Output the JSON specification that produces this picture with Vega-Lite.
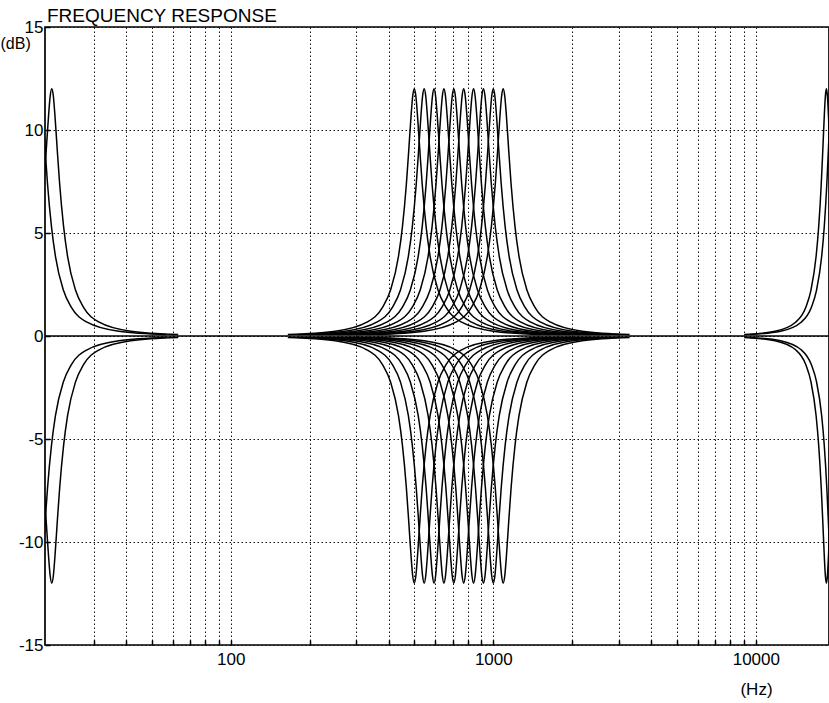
{
  "$schema": "https://vega.github.io/schema/vega-lite/v6.json",
  "autosize": "none",
  "width": 784,
  "height": 618,
  "padding": {"left": 45, "top": 27, "right": 0, "bottom": 58},
  "background": "white",
  "title": {"text": "FREQUENCY RESPONSE", "anchor": "start", "frame": "group", "fontSize": 19, "fontWeight": "normal", "font": "Liberation Sans", "color": "black", "baseline": "alphabetic", "offset": 0, "dy": 23, "dx": 2},
  "config": {
    "view": {"stroke": "black", "strokeWidth": 1.7},
    "axis": {"domain": false, "ticks": true, "tickSize": -5, "tickColor": "black", "tickWidth": 1.5, "grid": true, "gridColor": "#111", "gridDash": [1.5, 2.5], "gridWidth": 1, "gridOpacity": 1, "labelFont": "Liberation Sans", "labelFontSize": 17, "labelColor": "black", "titleFont": "Liberation Sans", "titleFontSize": 16, "titleFontWeight": "normal", "titleColor": "black"}
  },
  "datasets": {
    "curves": [
{"c":"0u","f":164.9,"db":0.07},{"c":"0u","f":250,"db":0.23},{"c":"0u","f":329.9,"db":0.67},{"c":"0u","f":378.9,"db":1.4},{"c":"0u","f":406.1,"db":2.23},{"c":"0u","f":435.3,"db":3.87},{"c":"0u","f":450.6,"db":5.3},{"c":"0u","f":466.5,"db":7.38},{"c":"0u","f":476.3,"db":9.01},{"c":"0u","f":486.3,"db":10.73},{"c":"0u","f":493.1,"db":11.64},{"c":"0u","f":500,"db":12},{"c":"0u","f":507,"db":11.64},{"c":"0u","f":514.1,"db":10.73},{"c":"0u","f":524.9,"db":9.01},{"c":"0u","f":535.9,"db":7.38},{"c":"0u","f":554.8,"db":5.3},{"c":"0u","f":574.4,"db":3.87},{"c":"0u","f":615.6,"db":2.23},{"c":"0u","f":659.8,"db":1.4},{"c":"0u","f":757.9,"db":0.67},{"c":"0u","f":1000,"db":0.23},{"c":"0u","f":1515.7,"db":0.07},
{"c":"0d","f":164.9,"db":-0.07},{"c":"0d","f":250,"db":-0.23},{"c":"0d","f":329.9,"db":-0.67},{"c":"0d","f":378.9,"db":-1.4},{"c":"0d","f":406.1,"db":-2.23},{"c":"0d","f":435.3,"db":-3.87},{"c":"0d","f":450.6,"db":-5.3},{"c":"0d","f":466.5,"db":-7.38},{"c":"0d","f":476.3,"db":-9.01},{"c":"0d","f":486.3,"db":-10.73},{"c":"0d","f":493.1,"db":-11.64},{"c":"0d","f":500,"db":-12},{"c":"0d","f":507,"db":-11.64},{"c":"0d","f":514.1,"db":-10.73},{"c":"0d","f":524.9,"db":-9.01},{"c":"0d","f":535.9,"db":-7.38},{"c":"0d","f":554.8,"db":-5.3},{"c":"0d","f":574.4,"db":-3.87},{"c":"0d","f":615.6,"db":-2.23},{"c":"0d","f":659.8,"db":-1.4},{"c":"0d","f":757.9,"db":-0.67},{"c":"0d","f":1000,"db":-0.23},{"c":"0d","f":1515.7,"db":-0.07},
{"c":"1u","f":179.9,"db":0.07},{"c":"1u","f":272.6,"db":0.23},{"c":"1u","f":359.7,"db":0.67},{"c":"1u","f":413.2,"db":1.4},{"c":"1u","f":442.9,"db":2.23},{"c":"1u","f":474.7,"db":3.87},{"c":"1u","f":491.4,"db":5.3},{"c":"1u","f":508.7,"db":7.38},{"c":"1u","f":519.4,"db":9.01},{"c":"1u","f":530.3,"db":10.73},{"c":"1u","f":537.7,"db":11.64},{"c":"1u","f":545.3,"db":12},{"c":"1u","f":552.9,"db":11.64},{"c":"1u","f":560.6,"db":10.73},{"c":"1u","f":572.4,"db":9.01},{"c":"1u","f":584.4,"db":7.38},{"c":"1u","f":605,"db":5.3},{"c":"1u","f":626.3,"db":3.87},{"c":"1u","f":671.3,"db":2.23},{"c":"1u","f":719.5,"db":1.4},{"c":"1u","f":826.5,"db":0.67},{"c":"1u","f":1090.5,"db":0.23},{"c":"1u","f":1652.9,"db":0.07},
{"c":"1d","f":179.9,"db":-0.07},{"c":"1d","f":272.6,"db":-0.23},{"c":"1d","f":359.7,"db":-0.67},{"c":"1d","f":413.2,"db":-1.4},{"c":"1d","f":442.9,"db":-2.23},{"c":"1d","f":474.7,"db":-3.87},{"c":"1d","f":491.4,"db":-5.3},{"c":"1d","f":508.7,"db":-7.38},{"c":"1d","f":519.4,"db":-9.01},{"c":"1d","f":530.3,"db":-10.73},{"c":"1d","f":537.7,"db":-11.64},{"c":"1d","f":545.3,"db":-12},{"c":"1d","f":552.9,"db":-11.64},{"c":"1d","f":560.6,"db":-10.73},{"c":"1d","f":572.4,"db":-9.01},{"c":"1d","f":584.4,"db":-7.38},{"c":"1d","f":605,"db":-5.3},{"c":"1d","f":626.3,"db":-3.87},{"c":"1d","f":671.3,"db":-2.23},{"c":"1d","f":719.5,"db":-1.4},{"c":"1d","f":826.5,"db":-0.67},{"c":"1d","f":1090.5,"db":-0.23},{"c":"1d","f":1652.9,"db":-0.07},
{"c":"2u","f":196.2,"db":0.07},{"c":"2u","f":297.3,"db":0.23},{"c":"2u","f":392.3,"db":0.67},{"c":"2u","f":450.6,"db":1.4},{"c":"2u","f":483,"db":2.23},{"c":"2u","f":517.6,"db":3.87},{"c":"2u","f":535.9,"db":5.3},{"c":"2u","f":554.8,"db":7.38},{"c":"2u","f":566.4,"db":9.01},{"c":"2u","f":578.3,"db":10.73},{"c":"2u","f":586.4,"db":11.64},{"c":"2u","f":594.6,"db":12},{"c":"2u","f":602.9,"db":11.64},{"c":"2u","f":611.3,"db":10.73},{"c":"2u","f":624.2,"db":9.01},{"c":"2u","f":637.3,"db":7.38},{"c":"2u","f":659.8,"db":5.3},{"c":"2u","f":683,"db":3.87},{"c":"2u","f":732,"db":2.23},{"c":"2u","f":784.6,"db":1.4},{"c":"2u","f":901.3,"db":0.67},{"c":"2u","f":1189.2,"db":0.23},{"c":"2u","f":1802.5,"db":0.07},
{"c":"2d","f":196.2,"db":-0.07},{"c":"2d","f":297.3,"db":-0.23},{"c":"2d","f":392.3,"db":-0.67},{"c":"2d","f":450.6,"db":-1.4},{"c":"2d","f":483,"db":-2.23},{"c":"2d","f":517.6,"db":-3.87},{"c":"2d","f":535.9,"db":-5.3},{"c":"2d","f":554.8,"db":-7.38},{"c":"2d","f":566.4,"db":-9.01},{"c":"2d","f":578.3,"db":-10.73},{"c":"2d","f":586.4,"db":-11.64},{"c":"2d","f":594.6,"db":-12},{"c":"2d","f":602.9,"db":-11.64},{"c":"2d","f":611.3,"db":-10.73},{"c":"2d","f":624.2,"db":-9.01},{"c":"2d","f":637.3,"db":-7.38},{"c":"2d","f":659.8,"db":-5.3},{"c":"2d","f":683,"db":-3.87},{"c":"2d","f":732,"db":-2.23},{"c":"2d","f":784.6,"db":-1.4},{"c":"2d","f":901.3,"db":-0.67},{"c":"2d","f":1189.2,"db":-0.23},{"c":"2d","f":1802.5,"db":-0.07},
{"c":"3u","f":213.9,"db":0.07},{"c":"3u","f":324.2,"db":0.23},{"c":"3u","f":427.8,"db":0.67},{"c":"3u","f":491.4,"db":1.4},{"c":"3u","f":526.7,"db":2.23},{"c":"3u","f":564.5,"db":3.87},{"c":"3u","f":584.4,"db":5.3},{"c":"3u","f":605,"db":7.38},{"c":"3u","f":617.7,"db":9.01},{"c":"3u","f":630.7,"db":10.73},{"c":"3u","f":639.5,"db":11.64},{"c":"3u","f":648.4,"db":12},{"c":"3u","f":657.5,"db":11.64},{"c":"3u","f":666.7,"db":10.73},{"c":"3u","f":680.7,"db":9.01},{"c":"3u","f":695,"db":7.38},{"c":"3u","f":719.5,"db":5.3},{"c":"3u","f":744.8,"db":3.87},{"c":"3u","f":798.3,"db":2.23},{"c":"3u","f":855.6,"db":1.4},{"c":"3u","f":982.8,"db":0.67},{"c":"3u","f":1296.8,"db":0.23},{"c":"3u","f":1965.6,"db":0.07},
{"c":"3d","f":213.9,"db":-0.07},{"c":"3d","f":324.2,"db":-0.23},{"c":"3d","f":427.8,"db":-0.67},{"c":"3d","f":491.4,"db":-1.4},{"c":"3d","f":526.7,"db":-2.23},{"c":"3d","f":564.5,"db":-3.87},{"c":"3d","f":584.4,"db":-5.3},{"c":"3d","f":605,"db":-7.38},{"c":"3d","f":617.7,"db":-9.01},{"c":"3d","f":630.7,"db":-10.73},{"c":"3d","f":639.5,"db":-11.64},{"c":"3d","f":648.4,"db":-12},{"c":"3d","f":657.5,"db":-11.64},{"c":"3d","f":666.7,"db":-10.73},{"c":"3d","f":680.7,"db":-9.01},{"c":"3d","f":695,"db":-7.38},{"c":"3d","f":719.5,"db":-5.3},{"c":"3d","f":744.8,"db":-3.87},{"c":"3d","f":798.3,"db":-2.23},{"c":"3d","f":855.6,"db":-1.4},{"c":"3d","f":982.8,"db":-0.67},{"c":"3d","f":1296.8,"db":-0.23},{"c":"3d","f":1965.6,"db":-0.07},
{"c":"4u","f":233.3,"db":0.07},{"c":"4u","f":353.6,"db":0.23},{"c":"4u","f":466.5,"db":0.67},{"c":"4u","f":535.9,"db":1.4},{"c":"4u","f":574.4,"db":2.23},{"c":"4u","f":615.6,"db":3.87},{"c":"4u","f":637.3,"db":5.3},{"c":"4u","f":659.8,"db":7.38},{"c":"4u","f":673.6,"db":9.01},{"c":"4u","f":687.8,"db":10.73},{"c":"4u","f":697.4,"db":11.64},{"c":"4u","f":707.1,"db":12},{"c":"4u","f":717,"db":11.64},{"c":"4u","f":727,"db":10.73},{"c":"4u","f":742.3,"db":9.01},{"c":"4u","f":757.9,"db":7.38},{"c":"4u","f":784.6,"db":5.3},{"c":"4u","f":812.3,"db":3.87},{"c":"4u","f":870.6,"db":2.23},{"c":"4u","f":933,"db":1.4},{"c":"4u","f":1071.8,"db":0.67},{"c":"4u","f":1414.2,"db":0.23},{"c":"4u","f":2143.6,"db":0.07},
{"c":"4d","f":233.3,"db":-0.07},{"c":"4d","f":353.6,"db":-0.23},{"c":"4d","f":466.5,"db":-0.67},{"c":"4d","f":535.9,"db":-1.4},{"c":"4d","f":574.4,"db":-2.23},{"c":"4d","f":615.6,"db":-3.87},{"c":"4d","f":637.3,"db":-5.3},{"c":"4d","f":659.8,"db":-7.38},{"c":"4d","f":673.6,"db":-9.01},{"c":"4d","f":687.8,"db":-10.73},{"c":"4d","f":697.4,"db":-11.64},{"c":"4d","f":707.1,"db":-12},{"c":"4d","f":717,"db":-11.64},{"c":"4d","f":727,"db":-10.73},{"c":"4d","f":742.3,"db":-9.01},{"c":"4d","f":757.9,"db":-7.38},{"c":"4d","f":784.6,"db":-5.3},{"c":"4d","f":812.3,"db":-3.87},{"c":"4d","f":870.6,"db":-2.23},{"c":"4d","f":933,"db":-1.4},{"c":"4d","f":1071.8,"db":-0.67},{"c":"4d","f":1414.2,"db":-0.23},{"c":"4d","f":2143.6,"db":-0.07},
{"c":"5u","f":254.4,"db":0.07},{"c":"5u","f":385.6,"db":0.23},{"c":"5u","f":508.7,"db":0.67},{"c":"5u","f":584.4,"db":1.4},{"c":"5u","f":626.3,"db":2.23},{"c":"5u","f":671.3,"db":3.87},{"c":"5u","f":695,"db":5.3},{"c":"5u","f":719.5,"db":7.38},{"c":"5u","f":734.6,"db":9.01},{"c":"5u","f":750,"db":10.73},{"c":"5u","f":760.5,"db":11.64},{"c":"5u","f":771.1,"db":12},{"c":"5u","f":781.9,"db":11.64},{"c":"5u","f":792.8,"db":10.73},{"c":"5u","f":809.4,"db":9.01},{"c":"5u","f":826.5,"db":7.38},{"c":"5u","f":855.6,"db":5.3},{"c":"5u","f":885.8,"db":3.87},{"c":"5u","f":949.3,"db":2.23},{"c":"5u","f":1017.5,"db":1.4},{"c":"5u","f":1168.8,"db":0.67},{"c":"5u","f":1542.2,"db":0.23},{"c":"5u","f":2337.6,"db":0.07},
{"c":"5d","f":254.4,"db":-0.07},{"c":"5d","f":385.6,"db":-0.23},{"c":"5d","f":508.7,"db":-0.67},{"c":"5d","f":584.4,"db":-1.4},{"c":"5d","f":626.3,"db":-2.23},{"c":"5d","f":671.3,"db":-3.87},{"c":"5d","f":695,"db":-5.3},{"c":"5d","f":719.5,"db":-7.38},{"c":"5d","f":734.6,"db":-9.01},{"c":"5d","f":750,"db":-10.73},{"c":"5d","f":760.5,"db":-11.64},{"c":"5d","f":771.1,"db":-12},{"c":"5d","f":781.9,"db":-11.64},{"c":"5d","f":792.8,"db":-10.73},{"c":"5d","f":809.4,"db":-9.01},{"c":"5d","f":826.5,"db":-7.38},{"c":"5d","f":855.6,"db":-5.3},{"c":"5d","f":885.8,"db":-3.87},{"c":"5d","f":949.3,"db":-2.23},{"c":"5d","f":1017.5,"db":-1.4},{"c":"5d","f":1168.8,"db":-0.67},{"c":"5d","f":1542.2,"db":-0.23},{"c":"5d","f":2337.6,"db":-0.07},
{"c":"6u","f":277.4,"db":0.07},{"c":"6u","f":420.5,"db":0.23},{"c":"6u","f":554.8,"db":0.67},{"c":"6u","f":637.3,"db":1.4},{"c":"6u","f":683,"db":2.23},{"c":"6u","f":732,"db":3.87},{"c":"6u","f":757.9,"db":5.3},{"c":"6u","f":784.6,"db":7.38},{"c":"6u","f":801.1,"db":9.01},{"c":"6u","f":817.9,"db":10.73},{"c":"6u","f":829.3,"db":11.64},{"c":"6u","f":840.9,"db":12},{"c":"6u","f":852.6,"db":11.64},{"c":"6u","f":864.5,"db":10.73},{"c":"6u","f":882.7,"db":9.01},{"c":"6u","f":901.3,"db":7.38},{"c":"6u","f":933,"db":5.3},{"c":"6u","f":965.9,"db":3.87},{"c":"6u","f":1035.3,"db":2.23},{"c":"6u","f":1109.6,"db":1.4},{"c":"6u","f":1274.6,"db":0.67},{"c":"6u","f":1681.8,"db":0.23},{"c":"6u","f":2549.1,"db":0.07},
{"c":"6d","f":277.4,"db":-0.07},{"c":"6d","f":420.5,"db":-0.23},{"c":"6d","f":554.8,"db":-0.67},{"c":"6d","f":637.3,"db":-1.4},{"c":"6d","f":683,"db":-2.23},{"c":"6d","f":732,"db":-3.87},{"c":"6d","f":757.9,"db":-5.3},{"c":"6d","f":784.6,"db":-7.38},{"c":"6d","f":801.1,"db":-9.01},{"c":"6d","f":817.9,"db":-10.73},{"c":"6d","f":829.3,"db":-11.64},{"c":"6d","f":840.9,"db":-12},{"c":"6d","f":852.6,"db":-11.64},{"c":"6d","f":864.5,"db":-10.73},{"c":"6d","f":882.7,"db":-9.01},{"c":"6d","f":901.3,"db":-7.38},{"c":"6d","f":933,"db":-5.3},{"c":"6d","f":965.9,"db":-3.87},{"c":"6d","f":1035.3,"db":-2.23},{"c":"6d","f":1109.6,"db":-1.4},{"c":"6d","f":1274.6,"db":-0.67},{"c":"6d","f":1681.8,"db":-0.23},{"c":"6d","f":2549.1,"db":-0.07},
{"c":"7u","f":302.5,"db":0.07},{"c":"7u","f":458.5,"db":0.23},{"c":"7u","f":605,"db":0.67},{"c":"7u","f":695,"db":1.4},{"c":"7u","f":744.8,"db":2.23},{"c":"7u","f":798.3,"db":3.87},{"c":"7u","f":826.5,"db":5.3},{"c":"7u","f":855.6,"db":7.38},{"c":"7u","f":873.6,"db":9.01},{"c":"7u","f":891.9,"db":10.73},{"c":"7u","f":904.4,"db":11.64},{"c":"7u","f":917,"db":12},{"c":"7u","f":929.8,"db":11.64},{"c":"7u","f":942.8,"db":10.73},{"c":"7u","f":962.6,"db":9.01},{"c":"7u","f":982.8,"db":7.38},{"c":"7u","f":1017.5,"db":5.3},{"c":"7u","f":1053.4,"db":3.87},{"c":"7u","f":1129,"db":2.23},{"c":"7u","f":1210,"db":1.4},{"c":"7u","f":1389.9,"db":0.67},{"c":"7u","f":1834,"db":0.23},{"c":"7u","f":2779.8,"db":0.07},
{"c":"7d","f":302.5,"db":-0.07},{"c":"7d","f":458.5,"db":-0.23},{"c":"7d","f":605,"db":-0.67},{"c":"7d","f":695,"db":-1.4},{"c":"7d","f":744.8,"db":-2.23},{"c":"7d","f":798.3,"db":-3.87},{"c":"7d","f":826.5,"db":-5.3},{"c":"7d","f":855.6,"db":-7.38},{"c":"7d","f":873.6,"db":-9.01},{"c":"7d","f":891.9,"db":-10.73},{"c":"7d","f":904.4,"db":-11.64},{"c":"7d","f":917,"db":-12},{"c":"7d","f":929.8,"db":-11.64},{"c":"7d","f":942.8,"db":-10.73},{"c":"7d","f":962.6,"db":-9.01},{"c":"7d","f":982.8,"db":-7.38},{"c":"7d","f":1017.5,"db":-5.3},{"c":"7d","f":1053.4,"db":-3.87},{"c":"7d","f":1129,"db":-2.23},{"c":"7d","f":1210,"db":-1.4},{"c":"7d","f":1389.9,"db":-0.67},{"c":"7d","f":1834,"db":-0.23},{"c":"7d","f":2779.8,"db":-0.07},
{"c":"8u","f":329.9,"db":0.07},{"c":"8u","f":500,"db":0.23},{"c":"8u","f":659.8,"db":0.67},{"c":"8u","f":757.9,"db":1.4},{"c":"8u","f":812.3,"db":2.23},{"c":"8u","f":870.6,"db":3.87},{"c":"8u","f":901.3,"db":5.3},{"c":"8u","f":933,"db":7.38},{"c":"8u","f":952.6,"db":9.01},{"c":"8u","f":972.7,"db":10.73},{"c":"8u","f":986.2,"db":11.64},{"c":"8u","f":1000,"db":12},{"c":"8u","f":1014,"db":11.64},{"c":"8u","f":1028.1,"db":10.73},{"c":"8u","f":1049.7,"db":9.01},{"c":"8u","f":1071.8,"db":7.38},{"c":"8u","f":1109.6,"db":5.3},{"c":"8u","f":1148.7,"db":3.87},{"c":"8u","f":1231.1,"db":2.23},{"c":"8u","f":1319.5,"db":1.4},{"c":"8u","f":1515.7,"db":0.67},{"c":"8u","f":2000,"db":0.23},{"c":"8u","f":3031.4,"db":0.07},
{"c":"8d","f":329.9,"db":-0.07},{"c":"8d","f":500,"db":-0.23},{"c":"8d","f":659.8,"db":-0.67},{"c":"8d","f":757.9,"db":-1.4},{"c":"8d","f":812.3,"db":-2.23},{"c":"8d","f":870.6,"db":-3.87},{"c":"8d","f":901.3,"db":-5.3},{"c":"8d","f":933,"db":-7.38},{"c":"8d","f":952.6,"db":-9.01},{"c":"8d","f":972.7,"db":-10.73},{"c":"8d","f":986.2,"db":-11.64},{"c":"8d","f":1000,"db":-12},{"c":"8d","f":1014,"db":-11.64},{"c":"8d","f":1028.1,"db":-10.73},{"c":"8d","f":1049.7,"db":-9.01},{"c":"8d","f":1071.8,"db":-7.38},{"c":"8d","f":1109.6,"db":-5.3},{"c":"8d","f":1148.7,"db":-3.87},{"c":"8d","f":1231.1,"db":-2.23},{"c":"8d","f":1319.5,"db":-1.4},{"c":"8d","f":1515.7,"db":-0.67},{"c":"8d","f":2000,"db":-0.23},{"c":"8d","f":3031.4,"db":-0.07},
{"c":"9u","f":359.7,"db":0.07},{"c":"9u","f":545.3,"db":0.23},{"c":"9u","f":719.5,"db":0.67},{"c":"9u","f":826.5,"db":1.4},{"c":"9u","f":885.8,"db":2.23},{"c":"9u","f":949.3,"db":3.87},{"c":"9u","f":982.8,"db":5.3},{"c":"9u","f":1017.5,"db":7.38},{"c":"9u","f":1038.9,"db":9.01},{"c":"9u","f":1060.7,"db":10.73},{"c":"9u","f":1075.5,"db":11.64},{"c":"9u","f":1090.5,"db":12},{"c":"9u","f":1105.7,"db":11.64},{"c":"9u","f":1121.2,"db":10.73},{"c":"9u","f":1144.7,"db":9.01},{"c":"9u","f":1168.8,"db":7.38},{"c":"9u","f":1210,"db":5.3},{"c":"9u","f":1252.7,"db":3.87},{"c":"9u","f":1342.6,"db":2.23},{"c":"9u","f":1438.9,"db":1.4},{"c":"9u","f":1652.9,"db":0.67},{"c":"9u","f":2181,"db":0.23},{"c":"9u","f":3305.8,"db":0.07},
{"c":"9d","f":359.7,"db":-0.07},{"c":"9d","f":545.3,"db":-0.23},{"c":"9d","f":719.5,"db":-0.67},{"c":"9d","f":826.5,"db":-1.4},{"c":"9d","f":885.8,"db":-2.23},{"c":"9d","f":949.3,"db":-3.87},{"c":"9d","f":982.8,"db":-5.3},{"c":"9d","f":1017.5,"db":-7.38},{"c":"9d","f":1038.9,"db":-9.01},{"c":"9d","f":1060.7,"db":-10.73},{"c":"9d","f":1075.5,"db":-11.64},{"c":"9d","f":1090.5,"db":-12},{"c":"9d","f":1105.7,"db":-11.64},{"c":"9d","f":1121.2,"db":-10.73},{"c":"9d","f":1144.7,"db":-9.01},{"c":"9d","f":1168.8,"db":-7.38},{"c":"9d","f":1210,"db":-5.3},{"c":"9d","f":1252.7,"db":-3.87},{"c":"9d","f":1342.6,"db":-2.23},{"c":"9d","f":1438.9,"db":-1.4},{"c":"9d","f":1652.9,"db":-0.67},{"c":"9d","f":2181,"db":-0.23},{"c":"9d","f":3305.8,"db":-0.07},
{"c":"Au","f":18.75,"db":5.3},{"c":"Au","f":19.41,"db":7.38},{"c":"Au","f":19.81,"db":9.01},{"c":"Au","f":20.23,"db":10.73},{"c":"Au","f":20.51,"db":11.64},{"c":"Au","f":20.8,"db":12},{"c":"Au","f":21.09,"db":11.64},{"c":"Au","f":21.38,"db":10.73},{"c":"Au","f":21.83,"db":9.01},{"c":"Au","f":22.29,"db":7.38},{"c":"Au","f":23.08,"db":5.3},{"c":"Au","f":23.89,"db":3.87},{"c":"Au","f":25.61,"db":2.23},{"c":"Au","f":27.45,"db":1.4},{"c":"Au","f":31.53,"db":0.67},{"c":"Au","f":41.6,"db":0.23},{"c":"Au","f":63.05,"db":0.07},
{"c":"Ad","f":18.75,"db":-5.3},{"c":"Ad","f":19.41,"db":-7.38},{"c":"Ad","f":19.81,"db":-9.01},{"c":"Ad","f":20.23,"db":-10.73},{"c":"Ad","f":20.51,"db":-11.64},{"c":"Ad","f":20.8,"db":-12},{"c":"Ad","f":21.09,"db":-11.64},{"c":"Ad","f":21.38,"db":-10.73},{"c":"Ad","f":21.83,"db":-9.01},{"c":"Ad","f":22.29,"db":-7.38},{"c":"Ad","f":23.08,"db":-5.3},{"c":"Ad","f":23.89,"db":-3.87},{"c":"Ad","f":25.61,"db":-2.23},{"c":"Ad","f":27.45,"db":-1.4},{"c":"Ad","f":31.53,"db":-0.67},{"c":"Ad","f":41.6,"db":-0.23},{"c":"Ad","f":63.05,"db":-0.07},
{"c":"Bu","f":16.85,"db":5.3},{"c":"Bu","f":17.45,"db":7.38},{"c":"Bu","f":17.81,"db":9.01},{"c":"Bu","f":18.19,"db":10.73},{"c":"Bu","f":18.44,"db":11.64},{"c":"Bu","f":18.7,"db":12},{"c":"Bu","f":18.96,"db":11.64},{"c":"Bu","f":19.23,"db":10.73},{"c":"Bu","f":19.63,"db":9.01},{"c":"Bu","f":20.04,"db":7.38},{"c":"Bu","f":20.75,"db":5.3},{"c":"Bu","f":21.48,"db":3.87},{"c":"Bu","f":23.02,"db":2.23},{"c":"Bu","f":24.67,"db":1.4},{"c":"Bu","f":28.34,"db":0.67},{"c":"Bu","f":37.4,"db":0.23},{"c":"Bu","f":56.69,"db":0.07},
{"c":"Bd","f":16.85,"db":-5.3},{"c":"Bd","f":17.45,"db":-7.38},{"c":"Bd","f":17.81,"db":-9.01},{"c":"Bd","f":18.19,"db":-10.73},{"c":"Bd","f":18.44,"db":-11.64},{"c":"Bd","f":18.7,"db":-12},{"c":"Bd","f":18.96,"db":-11.64},{"c":"Bd","f":19.23,"db":-10.73},{"c":"Bd","f":19.63,"db":-9.01},{"c":"Bd","f":20.04,"db":-7.38},{"c":"Bd","f":20.75,"db":-5.3},{"c":"Bd","f":21.48,"db":-3.87},{"c":"Bd","f":23.02,"db":-2.23},{"c":"Bd","f":24.67,"db":-1.4},{"c":"Bd","f":28.34,"db":-0.67},{"c":"Bd","f":37.4,"db":-0.23},{"c":"Bd","f":56.69,"db":-0.07},
{"c":"Cu","f":9031,"db":0.07},{"c":"Cu","f":11835,"db":0.23},{"c":"Cu","f":14172,"db":0.67},{"c":"Cu","f":15508,"db":1.4},{"c":"Cu","f":16222,"db":2.23},{"c":"Cu","f":16970,"db":3.87},{"c":"Cu","f":17357,"db":5.3},{"c":"Cu","f":17752,"db":7.38},{"c":"Cu","f":17993,"db":9.01},{"c":"Cu","f":18238,"db":10.73},{"c":"Cu","f":18403,"db":11.64},{"c":"Cu","f":18570,"db":12},{"c":"Cu","f":18738,"db":11.64},{"c":"Cu","f":18908,"db":10.73},{"c":"Cu","f":19165,"db":9.01},
{"c":"Cd","f":9031,"db":-0.07},{"c":"Cd","f":11835,"db":-0.23},{"c":"Cd","f":14172,"db":-0.67},{"c":"Cd","f":15508,"db":-1.4},{"c":"Cd","f":16222,"db":-2.23},{"c":"Cd","f":16970,"db":-3.87},{"c":"Cd","f":17357,"db":-5.3},{"c":"Cd","f":17752,"db":-7.38},{"c":"Cd","f":17993,"db":-9.01},{"c":"Cd","f":18238,"db":-10.73},{"c":"Cd","f":18403,"db":-11.64},{"c":"Cd","f":18570,"db":-12},{"c":"Cd","f":18738,"db":-11.64},{"c":"Cd","f":18908,"db":-10.73},{"c":"Cd","f":19165,"db":-9.01},
{"c":"Du","f":9483,"db":0.07},{"c":"Du","f":12427,"db":0.23},{"c":"Du","f":14882,"db":0.67},{"c":"Du","f":16284,"db":1.4},{"c":"Du","f":17035,"db":2.23},{"c":"Du","f":17820,"db":3.87},{"c":"Du","f":18226,"db":5.3},{"c":"Du","f":18641,"db":7.38},{"c":"Du","f":18895,"db":9.01},{"c":"Du","f":19152,"db":10.73},{"c":"Du","f":19325,"db":11.64},{"c":"Du","f":19500,"db":12},
{"c":"Dd","f":9483,"db":-0.07},{"c":"Dd","f":12427,"db":-0.23},{"c":"Dd","f":14882,"db":-0.67},{"c":"Dd","f":16284,"db":-1.4},{"c":"Dd","f":17035,"db":-2.23},{"c":"Dd","f":17820,"db":-3.87},{"c":"Dd","f":18226,"db":-5.3},{"c":"Dd","f":18641,"db":-7.38},{"c":"Dd","f":18895,"db":-9.01},{"c":"Dd","f":19152,"db":-10.73},{"c":"Dd","f":19325,"db":-11.64},{"c":"Dd","f":19500,"db":-12}
    ]
  },
  "layer": [
    {
      "data": {"name": "curves"},
      "mark": {"type": "line", "color": "black", "strokeWidth": 1.5, "interpolate": "monotone", "clip": true},
      "encoding": {
        "x": {
          "field": "f", "type": "quantitative",
          "scale": {"type": "log", "domain": [19.6, 19000], "nice": false},
          "axis": {
            "values": [30, 40, 50, 60, 70, 80, 90, 100, 200, 300, 400, 500, 600, 700, 800, 900, 1000, 2000, 3000, 4000, 5000, 6000, 7000, 8000, 9000, 10000],
            "labelExpr": "datum.value == 100 || datum.value == 1000 || datum.value == 10000 ? '' + datum.value : ''",
            "labelPadding": 11, "labelBaseline": "top", "labelFlush": false, "labelOverlap": false,
            "title": "(Hz)", "titleX": 711, "titleY": 44, "titleBaseline": "middle", "titleAlign": "center", "titleFontSize": 17
          }
        },
        "y": {
          "field": "db", "type": "quantitative",
          "scale": {"domain": [-15, 15], "nice": false},
          "axis": {
            "values": [-15, -10, -5, 0, 5, 10, 15],
            "labelExpr": "'' + datum.value",
            "labelPadding": 7, "labelFlush": false, "labelOverlap": false,
            "title": "(dB)", "titleAngle": 0, "titleX": -45, "titleY": 16, "titleAlign": "left", "titleBaseline": "middle"
          }
        },
        "detail": {"field": "c"}
      }
    },
    {
      "data": {"values": [{"db": 0}]},
      "mark": {"type": "rule", "color": "black", "strokeWidth": 1.5},
      "encoding": {"y": {"field": "db", "type": "quantitative"}}
    }
  ]
}
